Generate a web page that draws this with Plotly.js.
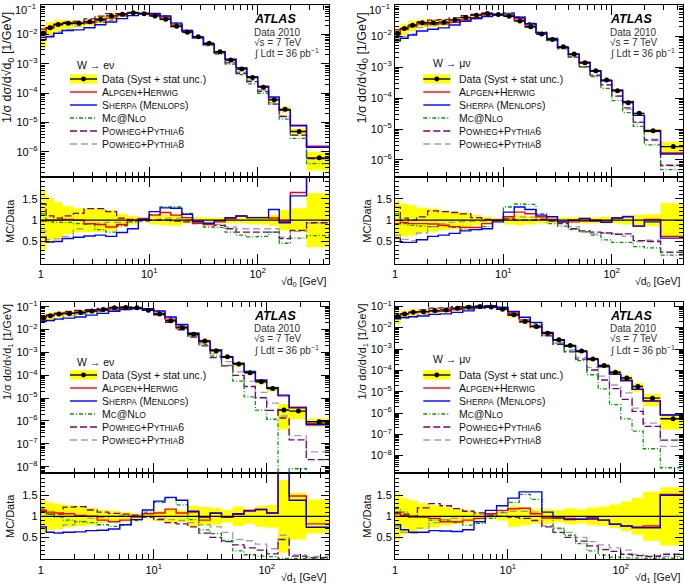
<!DOCTYPE html>
<html><head><meta charset="utf-8">
<script src="https://cdn.plot.ly/plotly-3.0.1.min.js"></script>
<style>html,body{margin:0;padding:0;background:#fff}#chart{width:685px;height:586px}</style>
</head><body><div id="chart"></div>
<script>
// ---------------- DATA ----------------
const edgesD0 = [1, 1.12, 1.32, 1.58, 2.0, 2.51, 3.16, 3.98, 5.01, 6.31, 7.94, 10.0, 12.6, 15.8, 20.0, 25.1, 31.6, 39.8, 50.1, 63.1, 79.4, 100, 126, 158, 200, 282, 457];
const edgesD1 = [1, 1.12, 1.32, 1.58, 2.0, 2.51, 3.16, 3.98, 5.01, 6.31, 7.94, 10.0, 12.6, 15.8, 20.0, 25.1, 31.6, 39.8, 50.1, 63.1, 79.4, 100, 126, 158, 224, 358];

// W -> e nu, sqrt(d0)
const dataE0 = [1.1e-2, 1.7e-2, 2.2e-2, 2.4e-2, 2.4e-2, 2.7e-2, 3.3e-2, 4.3e-2, 4.9e-2, 5.5e-2, 5.1e-2, 4.3e-2, 3.3e-2, 1.9e-2, 1.2e-2, 8.3e-3, 5.0e-3, 2.6e-3, 1.35e-3, 6.6e-4, 3.4e-4, 1.6e-4, 5.9e-5, 2.8e-5, 4.9e-6, 6.2e-7];
const errE0  = [0.7, 0.53, 0.42, 0.33, 0.28, 0.27, 0.27, 0.24, 0.15, 0.1, 0.05, 0.1, 0.12, 0.13, 0.08, 0.07, 0.06, 0.07, 0.07, 0.07, 0.09, 0.1, 0.13, 0.24, 0.28, 0.63];
const alpgenE0 = [0.98, 1.0, 1.0, 1.02, 1.0, 0.92, 0.9, 0.84, 0.9, 1.0, 1.04, 1.12, 1.18, 1.12, 1.06, 0.93, 0.9, 0.96, 1.04, 1.1, 1.06, 1.06, 1.05, 0.97, 1.65, 2.5];
const sherpaE0 = [0.6, 0.49, 0.5, 0.57, 0.6, 0.63, 0.65, 0.62, 0.71, 0.8, 1.02, 1.2, 1.29, 1.28, 1.14, 0.97, 0.93, 0.99, 1.06, 1.1, 1.06, 1.06, 1.25, 0.94, 1.57, 2.3];
const mcnloE0  = [1.15, 0.96, 0.95, 0.95, 0.92, 0.9, 0.78, 0.72, 0.87, 0.96, 1.0, 1.13, 1.31, 1.31, 1.16, 0.96, 0.84, 0.83, 0.72, 0.65, 0.61, 0.62, 0.72, 0.46, 0.58, 0.64];
const pow6E0   = [1.38, 1.1, 1.05, 1.1, 1.16, 1.27, 1.27, 1.2, 1.05, 1.02, 0.99, 1.0, 1.0, 0.98, 0.96, 0.92, 0.9, 0.88, 0.8, 0.72, 0.72, 0.72, 0.72, 0.57, 0.76, 0.94];
const pow8E0   = [0.75, 0.55, 0.56, 0.62, 0.8, 0.9, 0.93, 0.95, 0.95, 0.97, 0.97, 1.0, 1.05, 1.05, 1.02, 0.95, 0.92, 0.9, 0.84, 0.8, 0.8, 0.8, 0.8, 0.6, 0.74, 0.93];

// W -> mu nu, sqrt(d0)
const dataM0 = [1.22e-2, 1.77e-2, 2.26e-2, 2.7e-2, 2.7e-2, 2.83e-2, 3.3e-2, 4.0e-2, 4.75e-2, 5.4e-2, 5.0e-2, 4.4e-2, 3.1e-2, 2.0e-2, 1.16e-2, 7.8e-3, 4.5e-3, 2.63e-3, 1.38e-3, 7.6e-4, 3.8e-4, 1.72e-4, 7.1e-5, 3.2e-5, 8.8e-6, 2.7e-6];
const errM0  = [0.46, 0.38, 0.35, 0.29, 0.27, 0.23, 0.2, 0.18, 0.12, 0.08, 0.05, 0.1, 0.12, 0.1, 0.07, 0.07, 0.06, 0.06, 0.07, 0.07, 0.08, 0.08, 0.1, 0.12, 0.14, 0.4];
const alpgenM0 = [0.92, 0.95, 0.92, 0.92, 0.91, 0.88, 0.85, 0.83, 0.83, 0.92, 1.0, 1.08, 1.19, 1.15, 1.08, 1.02, 0.96, 0.96, 0.98, 1.0, 0.98, 1.05, 1.09, 0.86, 1.02, 0.62];
const sherpaM0 = [0.58, 0.48, 0.48, 0.54, 0.62, 0.65, 0.69, 0.75, 0.78, 0.8, 0.96, 1.19, 1.31, 1.25, 1.12, 1.08, 0.96, 1.0, 1.04, 0.98, 0.95, 1.05, 1.08, 0.86, 0.96, 0.58];
const mcnloM0  = [1.15, 0.92, 0.88, 0.86, 0.85, 0.87, 0.83, 0.78, 0.78, 0.85, 1.0, 1.31, 1.38, 1.37, 1.15, 0.92, 0.86, 0.78, 0.73, 0.65, 0.54, 0.48, 0.48, 0.38, 0.35, 0.18];
const pow6M0   = [1.3, 1.05, 1.0, 1.08, 1.22, 1.2, 1.18, 1.15, 1.06, 1.02, 1.0, 1.03, 1.0, 1.0, 1.02, 0.98, 0.92, 0.8, 0.75, 0.72, 0.7, 0.67, 0.68, 0.52, 0.5, 0.25];
const pow8M0   = [0.65, 0.55, 0.52, 0.7, 0.85, 0.92, 0.95, 0.97, 0.98, 0.98, 1.0, 1.05, 1.08, 1.07, 1.05, 0.98, 0.95, 0.85, 0.72, 0.68, 0.7, 0.68, 0.62, 0.5, 0.53, 0.24];

// W -> e nu, sqrt(d1)
const dataE1 = [3.1e-2, 4.0e-2, 4.8e-2, 5.1e-2, 5.65e-2, 6.5e-2, 7.6e-2, 9.0e-2, 9.3e-2, 9.0e-2, 7.1e-2, 4.8e-2, 2.44e-2, 1.2e-2, 6.2e-3, 3.2e-3, 1.18e-3, 6.4e-4, 3.1e-4, 1.29e-4, 5.2e-5, 2.65e-5, 3.0e-6, 2.7e-6, 9.2e-7];
const errE1  = [0.38, 0.33, 0.3, 0.26, 0.23, 0.2, 0.15, 0.13, 0.1, 0.07, 0.06, 0.12, 0.17, 0.14, 0.25, 0.22, 0.2, 0.15, 0.23, 0.17, 0.25, 0.27, 0.86, 0.55, 0.4];
const alpgenE1 = [1.14, 1.1, 1.08, 1.06, 1.02, 1.0, 0.91, 0.87, 0.91, 0.98, 1.06, 1.08, 1.17, 1.08, 1.1, 0.91, 1.07, 0.98, 1.05, 1.12, 1.16, 1.08, 4.2, 1.48, 0.82];
const sherpaE1 = [0.75, 0.62, 0.6, 0.62, 0.63, 0.66, 0.67, 0.7, 0.8, 0.92, 1.15, 1.36, 1.45, 1.38, 1.12, 0.98, 1.08, 0.98, 1.06, 1.14, 1.16, 1.08, 4.5, 1.38, 0.74];
const mcnloE1  = [1.17, 1.06, 0.98, 0.91, 0.87, 0.85, 0.8, 0.76, 0.8, 0.9, 1.1, 1.33, 1.44, 1.27, 0.92, 0.68, 0.59, 0.42, 0.18, 0.088, 0.057, 0.045, 0, 0.003, 0];
const pow6E1   = [1.12, 1.05, 1.05, 1.22, 1.23, 1.15, 1.1, 1.07, 1.05, 1.03, 0.98, 0.92, 0.85, 0.82, 0.75, 0.6, 0.5, 0.4, 0.32, 0.25, 0.2, 0.11, 0.45, 0.055, 0.022];
const pow8E1   = [0.75, 0.62, 0.62, 0.8, 0.88, 0.95, 0.97, 1.0, 1.02, 1.02, 1.0, 0.95, 0.92, 0.9, 0.85, 0.8, 0.75, 0.62, 0.45, 0.42, 0.34, 0.23, 0.55, 0.085, 0.048];

// W -> mu nu, sqrt(d1)
const dataM1 = [3.4e-2, 4.5e-2, 5.4e-2, 5.8e-2, 6.5e-2, 7.0e-2, 8.4e-2, 9.3e-2, 1.0e-1, 9.6e-2, 7.5e-2, 4.1e-2, 2.0e-2, 1.15e-2, 5.6e-3, 2.75e-3, 1.48e-3, 8.3e-4, 3.5e-4, 1.7e-4, 8.3e-5, 4.4e-5, 1.78e-5, 5.0e-6, 5.4e-7];
const errM1  = [0.55, 0.43, 0.38, 0.31, 0.26, 0.22, 0.18, 0.15, 0.1, 0.06, 0.1, 0.25, 0.21, 0.17, 0.17, 0.15, 0.19, 0.17, 0.21, 0.23, 0.28, 0.35, 0.44, 0.58, 0.69];
const alpgenM1 = [1.06, 1.02, 0.98, 0.98, 0.95, 0.87, 0.87, 0.91, 0.95, 1.06, 1.14, 1.18, 1.19, 1.06, 0.96, 0.95, 0.95, 0.93, 0.93, 0.91, 0.81, 0.77, 0.75, 0.77, 1.52];
const sherpaM1 = [0.8, 0.68, 0.62, 0.62, 0.66, 0.65, 0.64, 0.68, 0.87, 1.14, 1.25, 1.43, 1.58, 1.58, 1.1, 0.98, 0.92, 0.93, 0.96, 0.91, 0.81, 0.77, 0.73, 0.73, 1.5];
const mcnloM1  = [1.18, 1.1, 1.02, 0.98, 0.91, 0.91, 0.85, 0.79, 0.83, 0.95, 1.1, 1.33, 1.52, 1.4, 0.98, 0.72, 0.55, 0.35, 0.18, 0.08, 0.03, 0.012, 0.008, 0.0042, 0.005];
const pow6M1   = [1.1, 1.05, 1.0, 1.2, 1.3, 1.25, 1.18, 1.12, 1.08, 1.03, 1.0, 0.98, 0.95, 0.9, 0.75, 0.62, 0.5, 0.41, 0.3, 0.21, 0.17, 0.1, 0.067, 0.047, 0.1];
const pow8M1   = [0.75, 0.62, 0.6, 0.72, 0.85, 0.92, 0.95, 1.0, 1.05, 1.05, 1.08, 1.12, 1.12, 1.1, 0.78, 0.7, 0.62, 0.5, 0.4, 0.32, 0.25, 0.2, 0.096, 0.067, 0.05];

// tick labels
const xTickVals = [1, 10, 100];
const xTickText = ['1', '10<sup>1</sup>', '10<sup>2</sup>'];
const yTickVals = [1e-1, 1e-2, 1e-3, 1e-4, 1e-5, 1e-6, 1e-7, 1e-8, 1e-9];
const yTickText = ['10<sup>−1</sup>', '10<sup>−2</sup>', '10<sup>−3</sup>', '10<sup>−4</sup>', '10<sup>−5</sup>', '10<sup>−6</sup>', '10<sup>−7</sup>', '10<sup>−8</sup>', '10<sup>−9</sup>'];
const rTickVals = [0.5, 1, 1.5];
const rTickText = ['0.5', '1', '1.5'];

const channelLabels = ['W → eν', 'W → μν', 'W → eν', 'W → μν'];

// ---------------- LAYOUT HELPERS ----------------
const W = 685, H = 586;
const FONT = '"Liberation Sans", Arial, Helvetica, sans-serif';
const px = x => x / W, py = y => 1 - y / H;

const xMinor = [];
[1, 10, 100].forEach(d => { for (let m = 2; m <= 9; m++) xMinor.push(m * d); });
const yMinor = [];
for (let e = -10; e <= -1; e++) { for (let m = 2; m <= 9; m++) yMinor.push(m * Math.pow(10, e)); }
const rMinor = [];
for (let k = 1; k <= 19; k++) rMinor.push(k / 10);

const SC = 8.2;
function sc(big, small) { return big + '<span style="font-size:' + SC + 'px">' + small + '</span>'; }
const modelNames = [
  'Data (Syst + stat unc.)',
  sc('A', 'LPGEN') + sc('+H', 'ERWIG'),
  sc('S', 'HERPA') + sc(' (M', 'ENLOPS') + ')',
  sc('M', 'C') + sc('@N', 'LO'),
  sc('P', 'OWHEG') + sc('+P', 'YTHIA') + '6',
  sc('P', 'OWHEG') + sc('+P', 'YTHIA') + '8'
];
const styles = [
  null,
  {color: '#ff0000', dash: 'solid', width: 1.4},
  {color: '#0000ff', dash: 'solid', width: 1.4},
  {color: '#00a000', dash: '4px,2px,1px,2px', width: 1.3},
  {color: '#7a007a', dash: '7px,3px', width: 1.3},
  {color: '#a0a0a0', dash: '7px,4px', width: 1.3}
];

const panels = [
  {edges: edgesD0, data: dataE0, err: errE0, mc: [alpgenE0, sherpaE0, mcnloE0, pow6E0, pow8E0],
   xr: [0, 2.66], yr: [-6.85, -0.995], x0: 40.7, x1: 329.3, top: 5, split: 176.7, bottom: 263.7,
   sub: '0', ytSize: 12.5, ytX: 8, ytY: 68, mdX: 10, mdY: 221, xtY: 282, topLabelAnn: true,
   legSym: 70, legText: 100, legHead: 75, legRows: [65, 79, 92, 105, 118, 131, 144],
   infoX: 252, infoY: [19.5, 32.5, 43, 53.5]},
  {edges: edgesD0, data: dataM0, err: errM0, mc: [alpgenM0, sherpaM0, mcnloM0, pow6M0, pow8M0],
   xr: [0, 2.66], yr: [-6.54, -0.995], x0: 395, x1: 683.3, top: 5, split: 176.7, bottom: 263.7,
   sub: '0', ytSize: 12.5, ytX: 362.5, ytY: 68, mdX: 366.7, mdY: 221, xtY: 282, topLabelAnn: true,
   legSym: 423.3, legText: 456.7, legHead: 430.7, legRows: [63, 79, 92, 105, 118, 131, 144],
   infoX: 608, infoY: [19.5, 32.5, 43, 53.5]},
  {edges: edgesD1, data: dataE1, err: errE1, mc: [alpgenE1, sherpaE1, mcnloE1, pow6E1, pow8E1],
   xr: [0, 2.554], yr: [-8.29, -0.78], x0: 40.7, x1: 329.3, top: 301.7, split: 473.3, bottom: 559.3,
   sub: '1', ytSize: 10.8, ytX: 8, ytY: 352, mdX: 10, mdY: 516, xtY: 577.5, topLabelAnn: false,
   legSym: 70, legText: 100, legHead: 75, legRows: [361.7, 375, 388, 401, 414, 427, 440],
   infoX: 252, infoY: [315.5, 328.5, 339, 349.5]},
  {edges: edgesD1, data: dataM1, err: errM1, mc: [alpgenM1, sherpaM1, mcnloM1, pow6M1, pow8M1],
   xr: [0, 2.554], yr: [-8.83, -0.77], x0: 395, x1: 683.3, top: 301.7, split: 473.3, bottom: 559.3,
   sub: '1', ytSize: 10.8, ytX: 362.5, ytY: 352, mdX: 366.7, mdY: 516, xtY: 577.5, topLabelAnn: false,
   legSym: 423.3, legText: 456.7, legHead: 430.7, legRows: [359, 375, 388, 401, 414, 427, 440],
   infoX: 608, infoY: [315.5, 328.5, 339, 349.5]}
];

function axBase() {
  return {showline: true, linecolor: '#000', linewidth: 1, mirror: 'allticks', ticks: 'inside',
    tickcolor: '#000', ticklen: 9, tickwidth: 1, showgrid: false, zeroline: false, fixedrange: true,
    ticklabeloverflow: 'allow', tickfont: {family: FONT, size: 11, color: '#000'}};
}

const traces = [];
const layout = {
  width: W, height: H, margin: {l: 0, r: 0, t: 0, b: 0}, showlegend: false,
  paper_bgcolor: '#fff', plot_bgcolor: 'rgba(0,0,0,0)', font: {family: FONT, color: '#000'},
  shapes: [], annotations: []
};

function ann(x, y, text, opts) {
  layout.annotations.push(Object.assign({xref: 'paper', yref: 'paper', x: px(x), y: py(y), text: text,
    showarrow: false, xanchor: 'left', yanchor: 'middle', font: {family: FONT, size: 10.5, color: '#111'}}, opts || {}));
}

panels.forEach((p, i) => {
  const rx = 2 * i + 1, mx = 2 * i + 2;
  const rxName = 'xaxis' + (rx === 1 ? '' : rx), mxName = 'xaxis' + mx;
  const ryName = 'yaxis' + (rx === 1 ? '' : rx), myName = 'yaxis' + mx;
  const rxRef = 'x' + (rx === 1 ? '' : rx), ryRef = 'y' + (rx === 1 ? '' : rx);
  const mxRef = 'x' + mx, myRef = 'y' + mx;
  const n = p.data.length;
  const e = p.edges;

  // the top "10^-1" label sits at the page edge: drawn as an annotation so it stays inside the page
  const yText = yTickText.slice();
  if (p.topLabelAnn) {
    yText[0] = '';
    ann(p.x0 - 3, 0.5, yTickText[0], {xanchor: 'right', yanchor: 'top', font: {family: FONT, size: 11, color: '#000'}});
  }

  layout[rxName] = Object.assign(axBase(), {type: 'log', range: p.xr, domain: [px(p.x0), px(p.x1)], anchor: ryRef,
    tickmode: 'array', tickvals: xTickVals, ticktext: xTickText, ticklen: 10,
    minor: {tickmode: 'array', tickvals: xMinor, ticklen: 5, ticks: 'inside', tickcolor: '#000'}});
  layout[mxName] = Object.assign(axBase(), {type: 'log', range: p.xr, domain: [px(p.x0), px(p.x1)], anchor: myRef,
    tickmode: 'array', tickvals: xTickVals, showticklabels: false, ticklen: 10,
    minor: {tickmode: 'array', tickvals: xMinor, ticklen: 5, ticks: 'inside', tickcolor: '#000'}});
  layout[ryName] = Object.assign(axBase(), {range: [-0.02, 2.02], domain: [py(p.bottom), py(p.split)], anchor: rxRef,
    tickmode: 'array', tickvals: rTickVals, ticktext: rTickText, ticklen: 8,
    minor: {tickmode: 'array', tickvals: rMinor, ticklen: 4, ticks: 'inside', tickcolor: '#000'}});
  layout[myName] = Object.assign(axBase(), {type: 'log', range: p.yr, domain: [py(p.split), py(p.top)], anchor: mxRef,
    tickmode: 'array', tickvals: yTickVals, ticktext: yText, ticklen: 8,
    minor: {tickmode: 'array', tickvals: yMinor, ticklen: 4, ticks: 'inside', tickcolor: '#000'}});

  // yellow uncertainty bands (main & ratio)
  const bx = [], byM = [], byR = [];
  for (let k = 0; k < n; k++) { bx.push(e[k], e[k + 1]); byM.push(p.data[k] * (1 + p.err[k]), p.data[k] * (1 + p.err[k])); byR.push(1 + p.err[k], 1 + p.err[k]); }
  for (let k = n - 1; k >= 0; k--) { bx.push(e[k + 1], e[k]); byM.push(p.data[k] * (1 - p.err[k]), p.data[k] * (1 - p.err[k])); byR.push(1 - p.err[k], 1 - p.err[k]); }
  traces.push({x: bx, y: byM, xaxis: mxRef, yaxis: myRef, type: 'scatter', mode: 'lines', fill: 'toself',
    fillcolor: '#ffff00', line: {width: 0, color: '#ffff00'}, hoverinfo: 'skip'});
  traces.push({x: bx, y: byR, xaxis: rxRef, yaxis: ryRef, type: 'scatter', mode: 'lines', fill: 'toself',
    fillcolor: '#ffff00', line: {width: 0, color: '#ffff00'}, hoverinfo: 'skip'});

  // MC step lines (drawn in reverse so red/blue on top)
  [4, 3, 2, 0, 1].forEach(m => {
    const r = p.mc[m];
    const st = styles[m + 1];
    const yR = r.concat([r[n - 1]]);
    const yM = r.map((v, k) => Math.max(v * p.data[k], 1e-15));
    yM.push(yM[n - 1]);
    traces.push({x: e, y: yM, xaxis: mxRef, yaxis: myRef, type: 'scatter', mode: 'lines',
      line: {shape: 'hv', color: st.color, dash: st.dash, width: st.width}, hoverinfo: 'skip'});
    traces.push({x: e, y: yR, xaxis: rxRef, yaxis: ryRef, type: 'scatter', mode: 'lines',
      line: {shape: 'hv', color: st.color, dash: st.dash, width: st.width}, hoverinfo: 'skip'});
  });

  // data points
  const cx = [], ep = [], em = [];
  for (let k = 0; k < n; k++) { const c = (e[k] + e[k + 1]) / 2; cx.push(c); ep.push(e[k + 1] - c); em.push(c - e[k]); }
  traces.push({x: cx, y: p.data, xaxis: mxRef, yaxis: myRef, type: 'scatter', mode: 'markers',
    marker: {color: '#000', size: 5}, error_x: {type: 'data', symmetric: false, array: ep, arrayminus: em, width: 0, color: '#000', thickness: 1.4},
    hoverinfo: 'skip'});

  // ratio reference line at 1
  layout.shapes.push({type: 'line', xref: rxRef + ' domain', yref: ryRef, x0: 0, x1: 1, y0: 1, y1: 1, line: {color: '#000', width: 1.2}});

  // axis titles
  ann(p.ytX, p.ytY, '1/σ dσ/d√d<sub>' + p.sub + '</sub> [1/GeV]', {textangle: -90, xanchor: 'center', yanchor: 'middle', font: {family: FONT, size: p.ytSize, color: '#111'}});
  ann(p.mdX, p.mdY, 'MC/Data', {textangle: -90, xanchor: 'center', yanchor: 'middle', font: {family: FONT, size: 11, color: '#111'}});
  ann(p.x1, p.xtY, '√d<sub>' + p.sub + '</sub> [GeV]', {xanchor: 'right', font: {family: FONT, size: 10.5, color: '#111'}});

  // ATLAS info
  ann(p.infoX, p.infoY[0], '<b><i>ATLAS</i></b>', {font: {family: FONT, size: 12.5, color: '#000'}});
  ann(p.infoX, p.infoY[1], 'Data 2010', {font: {family: FONT, size: 10, color: '#333'}});
  ann(p.infoX, p.infoY[2], '√s = 7 TeV', {font: {family: FONT, size: 10, color: '#333'}});
  ann(p.infoX, p.infoY[3], '∫ Ldt = 36 pb<sup>−1</sup>', {font: {family: FONT, size: 10, color: '#333'}});

  // legend
  ann(p.legHead, p.legRows[0], channelLabels[i]);
  const s0 = p.legSym, s1 = p.legSym + 27;
  for (let j = 0; j < 6; j++) {
    const y = p.legRows[j + 1];
    ann(p.legText, y, modelNames[j]);
    if (j === 0) {
      layout.shapes.push({type: 'rect', xref: 'paper', yref: 'paper', x0: px(s0), x1: px(s1), y0: py(y + 4.5), y1: py(y - 4.5), fillcolor: '#ffff00', line: {width: 0}});
      layout.shapes.push({type: 'line', xref: 'paper', yref: 'paper', x0: px(s0), x1: px(s1), y0: py(y), y1: py(y), line: {color: '#000', width: 1.4}});
      layout.shapes.push({type: 'circle', xref: 'paper', yref: 'paper', x0: px((s0 + s1) / 2 - 2.4), x1: px((s0 + s1) / 2 + 2.4), y0: py(y + 2.4), y1: py(y - 2.4), fillcolor: '#000', line: {width: 0}});
    } else {
      const st = styles[j];
      layout.shapes.push({type: 'line', xref: 'paper', yref: 'paper', x0: px(s0), x1: px(s1), y0: py(y), y1: py(y), line: {color: st.color, width: st.width, dash: st.dash}});
    }
  }
});

Plotly.newPlot('chart', traces, layout, {staticPlot: true});
</script>
</body></html>
